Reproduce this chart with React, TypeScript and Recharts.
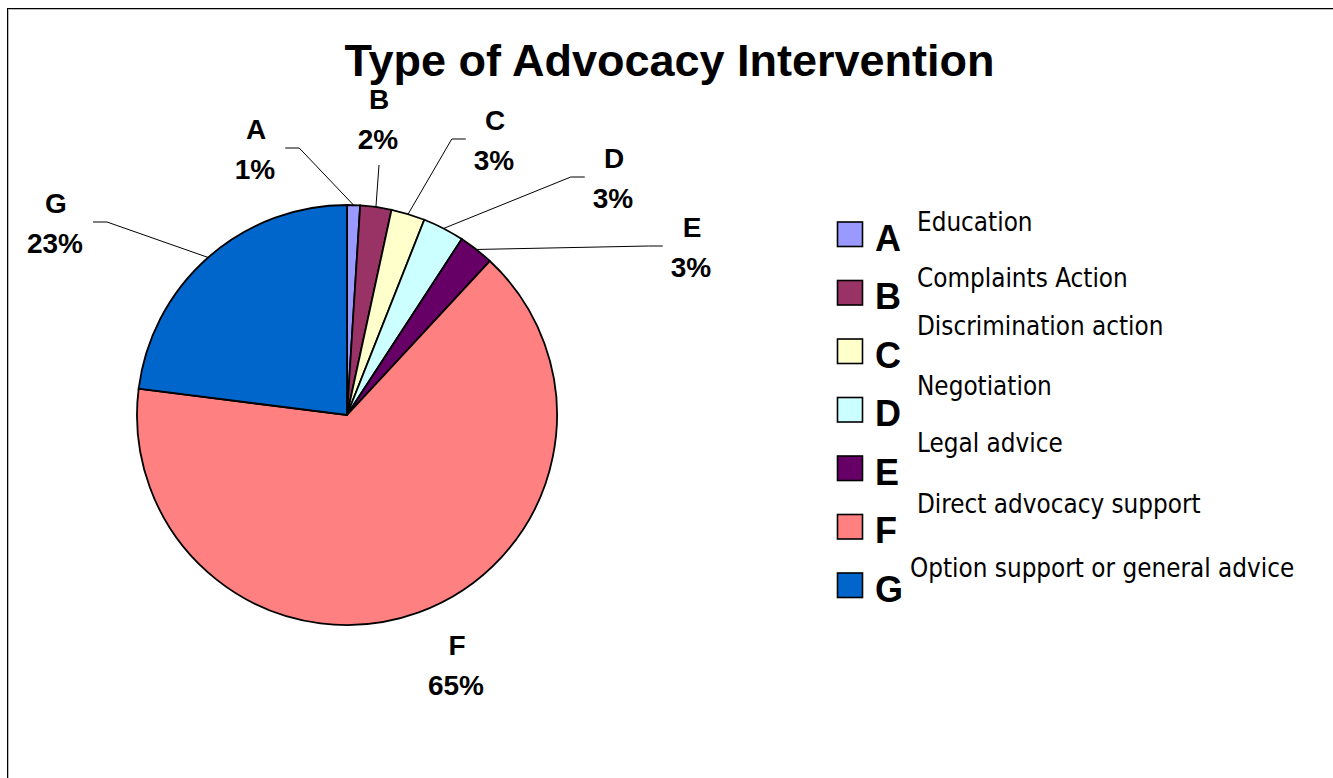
import React from 'react';
import { PieChart, Pie, Cell, Legend } from 'recharts';

// ---- data ----
const categories = ['A', 'B', 'C', 'D', 'E', 'F', 'G'];
const descriptions = [
  'Education',
  'Complaints Action',
  'Discrimination action',
  'Negotiation',
  'Legal advice',
  'Direct advocacy support',
  'Option support or general advice',
];
const values = [1.0, 2.4, 2.6, 3.2, 2.7, 65.1, 23.0];
const colors = ['#9999FF', '#993366', '#FFFFCC', '#CCFFFF', '#660066', '#FF8080', '#0066CC'];
const title = 'Type of Advocacy Intervention';

// ---- layout (label placement relative to pie centre, first-line baseline) ----
const labelOffsets: [number, number][] = [
  [-91, -276],
  [32, -306],
  [148, -285],
  [267, -247],
  [345, -178],
  [110, 240],
  [-291, -202],
];
const leaderKinds = ['elbow', 'vertical', 'elbow', 'elbow', 'elbow', 'none', 'elbow'];
const legendTextDy = [9, 6, -4, -3, -4, -2, 4];
const legendTextDx = [0, 0, 0, 0, 0, 0, -7];

const W = 1333;
const H = 778;
const CX = 347;
const CY = 415;
const R = 210;
const LABEL_FONT = '"Liberation Sans", Arial, sans-serif';
const LEGEND_FONT = '"DejaVu Sans Condensed", "DejaVu Sans", Tahoma, sans-serif';

const data = categories.map((c, i) => ({ name: c, desc: descriptions[i], value: values[i], color: colors[i] }));

const RAD = Math.PI / 180;

const renderLabel = (props: any) => {
  const { cx, cy, midAngle, outerRadius, index, percent } = props;
  const [ox, oy] = labelOffsets[index];
  const lx = cx + ox;
  const ly = cy + oy;
  const pct = `${Math.round(percent * 100)}%`;
  const ex = cx + outerRadius * Math.cos(-midAngle * RAD);
  const ey = cy + outerRadius * Math.sin(-midAngle * RAD);
  const kind = leaderKinds[index];
  let line: React.ReactNode = null;
  if (kind === 'elbow') {
    const half = ((pct.length - 1) * 0.556 + 0.889) * 28 / 2 + 9;
    const leftSide = lx < ex;
    const endX = leftSide ? lx + half : lx - half;
    const elbowX = leftSide ? endX + 14 : endX - 14;
    const yy = ly + 9;
    line = (
      <polyline
        points={`${ex},${ey} ${elbowX},${yy} ${endX},${yy}`}
        fill="none"
        stroke="#000"
        strokeWidth={1}
      />
    );
  } else if (kind === 'vertical') {
    line = <polyline points={`${ex},${ey} ${lx},${ly + 56}`} fill="none" stroke="#000" strokeWidth={1} />;
  }
  return (
    <g key={`lbl-${index}`}>
      {line}
      <text x={lx} y={ly} textAnchor="middle" fontFamily={LABEL_FONT} fontWeight="bold" fontSize={28} fill="#000">
        {categories[index]}
      </text>
      <text x={lx - 1} y={ly + 40} textAnchor="middle" fontFamily={LABEL_FONT} fontWeight="bold" fontSize={28} fill="#000">
        {pct}
      </text>
    </g>
  );
};

const renderLegend = () => (
  <svg width={W} height={H} style={{ position: 'absolute', left: 0, top: 0, pointerEvents: 'none' }}>
    {data.map((d, i) => {
      const top = 222 + i * 58.5;
      return (
        <g key={d.name}>
          <rect x={837.5} y={top} width={25} height={24.5} fill={d.color} stroke="#000" strokeWidth={1.6} />
          <text x={875} y={top + 28.5} fontFamily={LABEL_FONT} fontWeight="bold" fontSize={36} fill="#000">
            {d.name}
          </text>
          <text
            x={917 + legendTextDx[i]}
            y={top + legendTextDy[i]}
            fontFamily={LEGEND_FONT}
            fontStretch="condensed"
            fontSize={25.8}
            fill="#000"
          >
            {d.desc}
          </text>
        </g>
      );
    })}
  </svg>
);

export default function App() {
  return (
    <div style={{ position: 'absolute', left: 0, top: 0, width: W, height: H, overflow: 'hidden', background: '#fff' }}>
      <div
        style={{
          position: 'absolute',
          left: 7,
          top: 8,
          width: W,
          height: H,
          borderTop: '1.5px solid #000',
          borderLeft: '1.5px solid #000',
          boxShadow: 'inset 1px 1px 0 #bbb',
          boxSizing: 'border-box',
        }}
      />
      <div style={{ position: 'absolute', left: 0, top: 0 }}>
        <PieChart width={W} height={H} margin={{ top: 0, right: 0, bottom: 0, left: 0 }}>
          <Pie
            data={data}
            dataKey="value"
            nameKey="name"
            cx={CX}
            cy={CY}
            outerRadius={R}
            startAngle={90}
            endAngle={-270}
            stroke="#000"
            strokeWidth={1.8}
            label={renderLabel}
            labelLine={false}
            isAnimationActive={false}
          >
            {data.map((d) => (
              <Cell key={d.name} fill={d.color} />
            ))}
          </Pie>
          <Legend
            content={renderLegend}
            layout="vertical"
            align="right"
            verticalAlign="top"
            wrapperStyle={{ position: 'absolute', left: 0, top: 0, width: 0, height: 0 }}
          />
        </PieChart>
      </div>
      <svg width={W} height={H} style={{ position: 'absolute', left: 0, top: 0, pointerEvents: 'none' }}>
        <text x={669.5} y={76} textAnchor="middle" fontFamily={LABEL_FONT} fontWeight="bold" fontSize={45} fill="#000">
          {title}
        </text>
      </svg>
    </div>
  );
}
